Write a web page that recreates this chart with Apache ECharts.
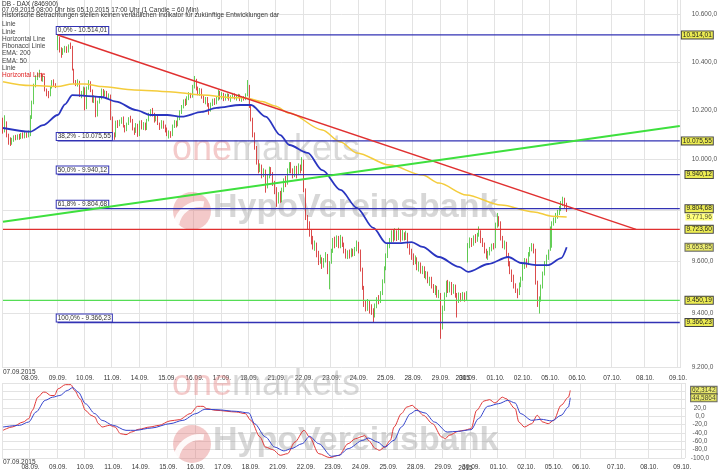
<!DOCTYPE html>
<html><head><meta charset="utf-8">
<script src="https://cdn.jsdelivr.net/npm/echarts@6/dist/echarts.min.js"></script>
<style>html,body{margin:0;padding:0;background:#fff}#c{width:720px;height:475px}</style>
</head><body><div id="c"></div>
<script>
// ---------------- DATA ----------------
const tradingDays = ['07.09.','08.09.','09.09.','10.09.','11.09.','14.09.','15.09.','16.09.','17.09.','18.09.','21.09.','22.09.','23.09.','24.09.','25.09.','28.09.','29.09.','30.09.','01.10.','02.10.','05.10.'];
const hoursPerDay = 15; // 08:00 .. 22:00
const futureDays = ['06.10.','07.10.','08.10.','09.10.'];
const futureSlots = [19, 18, 18, 2];
const firstDateLabel = '07.09.2015';
const yearLabel = '2015';

// hourly candles [open, close, low, high]
const candles = [
[10140,10120,10105,10170],[10120,10150,10110,10180],[10150,10100,10090,10155],[10100,10075,10060,10105],[10075,10065,10055,10090],[10065,10080,10060,10088],[10080,10090,10072,10098],[10090,10085,10078,10100],[10085,10095,10080,10102],[10095,10088,10080,10104],[10088,10098,10083,10108],[10098,10092,10085,10110],[10092,10100,10086,10112],[10100,10095,10088,10110],[10095,10105,10090,10118],
[10100,10170,10095,10180],[10170,10230,10165,10240],[10230,10300,10225,10310],[10300,10335,10295,10345],[10335,10345,10325,10355],[10345,10350,10335,10368],[10350,10330,10320,10355],[10330,10335,10318,10345],[10335,10285,10278,10340],[10285,10270,10258,10290],[10270,10262,10250,10280],[10262,10295,10258,10300],[10295,10318,10290,10325],[10318,10305,10298,10328],[10305,10300,10292,10312],
[10480,10500,10450,10514],[10500,10455,10440,10505],[10455,10435,10418,10462],[10435,10450,10430,10458],[10450,10462,10440,10468],[10462,10445,10438,10466],[10445,10470,10440,10474],[10470,10465,10455,10482],[10465,10370,10365,10468],[10370,10318,10310,10372],[10318,10310,10300,10325],[10310,10320,10298,10328],[10320,10262,10255,10322],[10262,10270,10250,10280],[10270,10290,10262,10298],
[10290,10215,10200,10295],[10215,10290,10205,10298],[10290,10318,10285,10325],[10318,10282,10275,10320],[10282,10240,10232,10286],[10240,10255,10230,10262],[10255,10180,10172,10258],[10180,10235,10175,10240],[10235,10250,10228,10258],[10250,10282,10245,10290],[10282,10265,10255,10288],[10265,10275,10258,10282],[10275,10258,10250,10280],[10258,10262,10245,10270],[10262,10170,10160,10265],
[10170,10100,10088,10175],[10100,10095,10080,10110],[10095,10150,10090,10158],[10150,10140,10128,10160],[10140,10155,10135,10162],[10155,10165,10145,10172],[10165,10135,10130,10175],[10135,10120,10110,10140],[10120,10145,10115,10150],[10145,10165,10140,10172],[10165,10160,10150,10178],[10160,10125,10118,10165],[10125,10112,10100,10130],[10112,10140,10108,10148],[10140,10100,10092,10145],
[10100,10150,10095,10158],[10150,10130,10122,10160],[10130,10145,10120,10152],[10145,10125,10118,10150],[10125,10160,10120,10165],[10160,10180,10155,10190],[10180,10195,10175,10205],[10195,10185,10175,10210],[10185,10160,10150,10190],[10160,10175,10155,10182],[10175,10145,10140,10180],[10145,10130,10120,10150],[10130,10150,10125,10160],[10150,10135,10125,10158],[10135,10120,10110,10142],
[10120,10100,10095,10130],[10100,10110,10085,10118],[10110,10100,10088,10115],[10100,10135,10095,10142],[10135,10150,10128,10160],[10150,10140,10130,10158],[10140,10165,10135,10175],[10165,10190,10160,10200],[10190,10215,10185,10222],[10215,10235,10208,10245],[10235,10228,10218,10248],[10228,10250,10222,10258],[10250,10262,10242,10275],[10262,10258,10250,10272],[10258,10295,10252,10305],
[10295,10325,10290,10342],[10325,10290,10282,10330],[10290,10270,10262,10298],[10270,10285,10260,10292],[10285,10255,10248,10290],[10255,10240,10230,10262],[10240,10250,10225,10255],[10250,10225,10215,10255],[10225,10200,10182,10230],[10200,10225,10195,10232],[10225,10240,10218,10248],[10240,10230,10222,10250],[10230,10245,10225,10255],[10245,10270,10240,10285],[10270,10255,10245,10280],
[10255,10265,10245,10275],[10265,10245,10238,10272],[10245,10258,10240,10268],[10258,10262,10248,10270],[10262,10248,10240,10268],[10248,10255,10235,10262],[10255,10265,10250,10272],[10265,10250,10245,10270],[10250,10258,10240,10264],[10258,10262,10250,10268],[10262,10245,10238,10266],[10245,10252,10235,10258],[10252,10248,10240,10258],[10248,10265,10242,10270],[10265,10310,10258,10325],
[10300,10220,10210,10305],[10220,10165,10155,10225],[10165,10100,10090,10170],[10100,10050,10040,10110],[10050,9990,9980,10055],[9990,9960,9945,10000],[9960,9975,9950,9985],[9975,9935,9925,9980],[9935,9955,9930,9965],[9955,9890,9868,9960],[9890,9930,9885,9940],[9930,9965,9925,9972],[9965,9945,9935,9970],[9945,9905,9895,9950],[9905,9880,9862,9915],
[9880,9840,9812,9890],[9840,9860,9825,9870],[9860,9835,9828,9875],[9835,9880,9830,9888],[9880,9915,9870,9925],[9915,9905,9890,9935],[9905,9955,9900,9965],[9955,9975,9945,9990],[9975,9955,9945,9990],[9955,9935,9925,9965],[9935,9965,9930,9975],[9965,9945,9925,9975],[9945,9970,9938,9985],[9970,9960,9945,9980],[9960,9995,9955,10010],
[9995,9880,9870,10000],[9880,9770,9760,9885],[9770,9745,9725,9780],[9745,9715,9695,9755],[9715,9690,9665,9725],[9690,9660,9645,9698],[9660,9665,9640,9680],[9665,9630,9615,9672],[9630,9600,9585,9640],[9600,9610,9590,9625],[9610,9585,9570,9615],[9585,9600,9575,9612],[9600,9620,9595,9635],[9620,9560,9550,9628],[9555,9595,9492,9600],
[9595,9640,9590,9648],[9640,9680,9632,9690],[9680,9665,9650,9695],[9665,9690,9655,9700],[9690,9660,9650,9698],[9660,9685,9650,9702],[9685,9665,9655,9695],[9665,9640,9630,9672],[9640,9620,9610,9648],[9620,9635,9608,9642],[9635,9625,9610,9645],[9625,9640,9615,9650],[9640,9630,9618,9648],[9630,9645,9620,9655],[9645,9660,9638,9680],
[9660,9640,9630,9675],[9640,9570,9560,9645],[9570,9500,9490,9575],[9500,9440,9425,9505],[9440,9420,9408,9450],[9420,9445,9410,9455],[9445,9425,9400,9450],[9425,9410,9395,9435],[9410,9395,9368,9420],[9395,9430,9385,9438],[9430,9455,9420,9462],[9455,9445,9435,9470],[9445,9475,9440,9485],[9475,9520,9470,9530],[9520,9570,9515,9580],
[9570,9620,9565,9630],[9620,9660,9612,9670],[9660,9680,9650,9690],[9680,9700,9672,9720],[9700,9685,9675,9725],[9685,9710,9680,9728],[9710,9690,9678,9720],[9690,9705,9682,9730],[9705,9688,9675,9725],[9688,9700,9680,9722],[9700,9690,9680,9712],[9690,9705,9682,9718],[9705,9660,9650,9710],[9660,9640,9625,9668],[9640,9620,9605,9648],
[9620,9600,9585,9630],[9600,9610,9588,9622],[9610,9575,9565,9615],[9575,9590,9560,9598],[9590,9565,9552,9595],[9565,9575,9550,9582],[9575,9545,9535,9580],[9545,9555,9530,9562],[9555,9525,9515,9560],[9525,9535,9505,9540],[9535,9505,9495,9540],[9505,9490,9478,9512],[9490,9500,9470,9508],[9500,9475,9460,9505],[9475,9480,9458,9490],
[9470,9350,9305,9478],[9350,9420,9340,9430],[9420,9470,9410,9480],[9470,9510,9462,9525],[9510,9490,9478,9528],[9490,9515,9480,9522],[9515,9495,9470,9520],[9495,9505,9475,9512],[9505,9470,9460,9510],[9470,9445,9385,9478],[9445,9470,9440,9480],[9470,9458,9445,9478],[9458,9475,9450,9482],[9475,9455,9445,9480],[9455,9480,9448,9485],
[9600,9660,9595,9670],[9660,9680,9650,9692],[9680,9670,9655,9690],[9670,9690,9660,9700],[9690,9685,9670,9705],[9685,9700,9675,9710],[9700,9715,9695,9735],[9715,9680,9670,9720],[9680,9665,9655,9690],[9665,9640,9630,9672],[9640,9620,9610,9648],[9620,9630,9605,9640],[9630,9645,9622,9655],[9645,9660,9638,9668],[9660,9655,9645,9670],
[9655,9740,9650,9750],[9740,9765,9730,9788],[9765,9750,9735,9775],[9750,9690,9680,9755],[9690,9660,9650,9698],[9660,9670,9645,9680],[9670,9625,9615,9675],[9625,9590,9580,9632],[9590,9560,9550,9600],[9560,9540,9520,9568],[9540,9505,9495,9548],[9505,9490,9478,9515],[9490,9475,9458,9495],[9475,9510,9470,9518],[9510,9530,9500,9540],
[9530,9580,9525,9590],[9580,9600,9570,9612],[9600,9590,9575,9610],[9590,9625,9585,9635],[9625,9645,9618,9655],[9645,9660,9638,9670],[9660,9640,9630,9668],[9640,9520,9510,9648],[9520,9440,9425,9525],[9440,9455,9400,9465],[9455,9500,9445,9510],[9500,9550,9495,9560],[9550,9590,9545,9600],[9590,9615,9580,9625],[9615,9630,9605,9645],
[9645,9725,9640,9735],[9725,9745,9652,9755],[9745,9760,9738,9770],[9760,9775,9748,9788],[9775,9790,9765,9800],[9790,9805,9780,9815],[9805,9825,9795,9835],[9825,9840,9815,9852],[9840,9818,9808,9848],[9818,9805,9792,9828]
];

// EMA lines: [candle slot, value]
const ema200 = [[0,10318],[15,10302],[30,10298],[38,10309],[45,10309],[54,10298],[72,10284],[91,10277],[109,10263],[127,10252],[133,10251],[142,10236],[149,10218],[157,10189],[175,10120],[185,10071],[194,10027],[212,9978],[230,9938],[239,9906],[254,9859],[273,9819],[291,9792],[301,9775],[309,9771.96]];
const ema50 = [[0,10128],[15,10113],[22,10140],[30,10181],[34,10225],[38,10263],[45,10260],[54,10255],[62,10236],[73,10201],[81,10181],[90,10181],[98,10174],[109,10194],[117,10210],[130,10222],[136,10222],[144,10174],[152,10099],[157,10059],[167,10027],[175,9958],[185,9879],[194,9808],[203,9729],[210,9670],[217,9670],[224,9674],[230,9655],[239,9616],[250,9578],[255,9559],[266,9589],[277,9616],[284,9593],[293,9585],[299,9585],[306,9612],[309,9653.85]];
const ema200Last = 9771.96;
const ema50Last = 9653.85;

// drawing tools
const fibLevels = [10514.01, 10075.55, 9940.12, 9804.68, 9366.23];
const fibPct = ['0,0%', '38,2%', '50,0%', '61,8%', '100,0%'];
const fibStartSlot = 30;
const redHorizontal = 9723.60;
const greenHorizontal = 9450.19;
const redTrend = [[30, 10514.01], [347, 9723.60]];
const greenTrend = [[0, 9753], [371, 10136]];

// price axis ticks
const priceTicks = [9200, 9400, 9600, 9800, 10000, 10200, 10400, 10600];
const priceMin = 9196.4, priceMax = 10662.8;

// lower indicator panel
const oscRed = [[0,-33.6],[5,-25.6],[11,-13.6],[14,-5.6],[16,14.4],[19,46],[22,58],[23,58],[26,50],[28,50],[30,66],[34,76],[37,76],[39,62],[42,42],[45,14],[48,2.4],[50,-1.6],[52,-17.6],[54,-25.6],[58,-21.6],[61,-25.6],[64,-41.6],[67,-44],[70,-37.6],[74,-31],[80,-25.6],[85,-21.6],[91,-11],[96,-8],[102,6.4],[106,24],[109,24],[111,18.4],[116,14.4],[127,10.4],[132,6.4],[135,-9.6],[140,-49.6],[143,-73.7],[147,-80],[151,-93.6],[155,-89.6],[159,-61.7],[164,-33.6],[167,-49.6],[172,-89.6],[178,-99],[183,-93.6],[188,-65.6],[192,-53.6],[196,-48],[197,-45.6],[199,-57.6],[203,-77.6],[205,-81.6],[208,-73.7],[211,-57.6],[213,-25.6],[217,6.4],[220,22.4],[223,26.4],[225,18.4],[229,2.4],[234,-17.6],[239,-49.6],[241,-53.6],[243,-45.6],[248,-36],[251,-33.6],[255,-29.6],[258,14.4],[262,36.7],[265,40],[268,32],[272,46],[274,42.4],[279,18.4],[281,-13.6],[284,-25.6],[288,-17.6],[291,2.4],[294,-13.6],[297,-17.6],[300,-9.6],[304,26.4],[308,46],[309,62.3142]];
const oscBlue = [[0,-25.6],[9,-21.6],[14,-13.6],[18,10.4],[23,38.4],[27,46],[31,50],[35,62],[38,69],[41,58],[45,30],[50,6.4],[54,-9.6],[60,-21.6],[67,-33.6],[72,-33.6],[81,-28],[91,-17.6],[98,-9.6],[105,6.4],[110,17],[116,16],[127,12],[134,8],[137,-17.6],[143,-49.6],[148,-73.7],[153,-83],[157,-77.6],[163,-65.6],[167,-48],[172,-65.6],[179,-96],[183,-93.6],[188,-77.6],[196,-57.6],[199,-52],[204,-61.7],[208,-73.7],[213,-57.6],[217,-25.6],[222,6.4],[225,14.4],[230,8],[235,-13.6],[242,-37.6],[248,-36],[255,-32],[259,-5.6],[264,24],[270,30.4],[275,38.4],[279,32],[282,6.4],[288,-9.6],[293,-7],[299,-11],[304,2.4],[308,22.4],[309,44.5864]];
const oscRedLast = 62.3142;
const oscBlueLast = 44.5864;
const oscTicks = {min: -100, max: 80, step: 20};

const headerLines = ['DB - DAX (846900)', '07.09.2015 08:00 Uhr bis 05.10.2015 17:00 Uhr (1 Candle = 60 Min)', 'Historische Betrachtungen stellen keinen verläßlichen Indikator für zukünftige Entwicklungen dar'];
const legendItems = ['Linie', 'Linie', 'Horizontal Line', 'Fibonacci Linie', 'EMA: 200', 'EMA: 50', 'Linie', 'Horizontal Line'];

// ---------------- BUILD ----------------
const FONT = '"Liberation Sans", Arial, sans-serif';
function de(v, d) {
  let s = Math.abs(v).toFixed(d);
  let [i, f] = s.split('.');
  i = i.replace(/\B(?=(\d{3})+(?!\d))/g, '.');
  return (v < 0 && Number(s) !== 0 ? '-' : '') + i + (f !== undefined ? ',' + f : '');
}
const categories = [];
const dayStarts = new Set();
tradingDays.forEach(d => { dayStarts.add(categories.length); for (let h = 0; h < hoursPerDay; h++) categories.push(d + ' ' + String(8 + h).padStart(2, '0') + ':00'); });
futureDays.forEach((d, k) => { dayStarts.add(categories.length); for (let s = 0; s < futureSlots[k]; s++) categories.push(d + ' +' + s); });
const lastSlot = categories.length - 1;
const yearSlot = 248;

function dateAxis(gridIndex, margin) {
  return {type: 'category', gridIndex, position: 'bottom', data: categories, boundaryGap: true,
    axisLine: {show: false}, axisTick: {show: false},
    axisLabel: {interval: i => dayStarts.has(i) && i !== 0, formatter: v => v.split(' ')[0], fontSize: 6.5, fontFamily: FONT, color: '#333', margin, lineHeight: 8},
    splitLine: {show: true, interval: i => dayStarts.has(i), lineStyle: {color: '#e3e3e3', width: 1}}};
}
function yearAxis(gridIndex) {
  return {type: 'category', gridIndex, position: 'bottom', data: categories, boundaryGap: true,
    axisLine: {show: false}, axisTick: {show: false}, splitLine: {show: false},
    axisLabel: {interval: i => i === 0 || i === yearSlot, align: 'left', margin: 0.5, lineHeight: 6.5,
      formatter: (v, i) => i === 0 ? firstDateLabel : '\n' + yearLabel, fontSize: 6.5, fontFamily: FONT, color: '#333'}};
}
const boxLabel = (text, border) => ({show: true, formatter: text, position: [33, 0], align: 'right', verticalAlign: 'middle',
  backgroundColor: border ? '#ecec52' : '#ffff5a', borderColor: border ? '#444' : 'transparent', borderWidth: border ? 1 : 0,
  padding: [0, 1, 0, 1], fontSize: 6.5, lineHeight: 7, fontFamily: FONT, color: '#222'});

const smoothLine = (data, color, width, x, y, z) => ({type: 'line', xAxisIndex: x, yAxisIndex: y, data, smooth: 0.3, smoothMonotone: 'x',
  symbol: 'none', lineStyle: {color, width}, z});

const series = [];
series.push({type: 'candlestick', xAxisIndex: 0, yAxisIndex: 0, data: candles, barWidth: 1.2, z: 2,
  itemStyle: {color: '#3cc22c', color0: '#d21f1f', borderColor: '#3cc22c', borderColor0: '#d21f1f', borderWidth: 0.8}});
series.push(smoothLine(ema200, '#f4cc3c', 1.5, 0, 0, 3));
series.push(smoothLine(ema50, '#2a35c0', 1.8, 0, 0, 3));
fibLevels.forEach((v, k) => {
  series.push({type: 'line', xAxisIndex: 0, yAxisIndex: 0, symbol: 'circle', symbolSize: 0, showSymbol: true, z: 4,
    lineStyle: {color: '#3232b4', width: 1.3}, itemStyle: {color: '#3232b4'},
    data: [
      {value: [fibStartSlot, v], label: {show: true, formatter: fibPct[k] + ' - ' + de(v, 2), position: [-1, -8], align: 'left', verticalAlign: 'top',
        backgroundColor: '#fff', borderColor: '#3232b4', borderWidth: 1, padding: [0, 1, 0, 1], fontSize: 6.5, lineHeight: 7, fontFamily: FONT, color: '#333'}},
      {value: [lastSlot, v], label: boxLabel(de(v, 2), true)}
    ]});
});
[[redHorizontal, '#e03030'], [greenHorizontal, '#55dd55']].forEach(([v, c]) => {
  series.push({type: 'line', xAxisIndex: 0, yAxisIndex: 0, symbol: 'circle', symbolSize: 0, showSymbol: true, z: 4,
    lineStyle: {color: c, width: 1.2}, itemStyle: {color: c},
    data: [{value: [0, v]}, {value: [lastSlot, v], label: boxLabel(de(v, 2), true)}]});
});
series.push({type: 'line', xAxisIndex: 0, yAxisIndex: 0, data: redTrend, symbol: 'none', lineStyle: {color: '#e03030', width: 1.5}, z: 5});
series.push({type: 'line', xAxisIndex: 0, yAxisIndex: 0, data: greenTrend, symbol: 'none', lineStyle: {color: '#3ee03e', width: 2}, z: 5});
series.push({type: 'scatter', xAxisIndex: 0, yAxisIndex: 0, symbolSize: 0, z: 6,
  data: [{value: [lastSlot, ema200Last], label: boxLabel(de(ema200Last, 2), false)}, {value: [lastSlot, ema50Last], label: boxLabel(de(ema50Last, 2), true)}]});
// lower panel
series.push(smoothLine(oscRed, '#e03838', 1, 2, 1, 3));
series.push(smoothLine(oscBlue, '#3444cc', 1, 2, 1, 3));
series.push({type: 'scatter', xAxisIndex: 2, yAxisIndex: 1, symbolSize: 0, z: 6,
  data: [{value: [lastSlot, oscRedLast], label: Object.assign(boxLabel(de(oscRedLast, 4), true), {position: [32.5, 0]})},
         {value: [lastSlot, oscBlueLast], label: Object.assign(boxLabel(de(oscBlueLast, 4), true), {position: [32.5, 0]})}]});

// text and watermarks
const graphic = [];
const wm = (baseOne, baseHypo) => [
  {type: 'text', x: 172, y: baseOne - 12.6, z: 1, silent: true, style: {text: '{a|one}{b|markets}', font: '36px ' + FONT, verticalAlign: 'middle',
    rich: {a: {fill: 'rgba(230,140,140,0.45)', font: '36px ' + FONT}, b: {fill: 'rgba(170,170,170,0.45)', font: '36px ' + FONT}}}},
  {type: 'circle', z: 1, silent: true, shape: {cx: 192, cy: baseHypo - 9, r: 19}, style: {fill: 'rgba(225,120,120,0.4)'}},
  {type: 'arc', z: 1, silent: true, shape: {cx: 200, cy: baseHypo + 8, r: 24, startAngle: Math.PI * 1.05, endAngle: Math.PI * 1.55}, style: {stroke: 'rgba(255,255,255,0.9)', lineWidth: 6, fill: null}},
  {type: 'text', x: 213, y: baseHypo - 12, z: 1, silent: true, style: {text: 'HypoVereinsbank', font: 'bold 34px ' + FONT, fill: 'rgba(160,160,160,0.42)', verticalAlign: 'middle'}}
];
graphic.push(...wm(163, 220), ...wm(398, 453));
const headerY = [4, 10, 15.5];
headerLines.forEach((t, i) => graphic.push({type: 'text', x: 2, y: headerY[i], z: 20, silent: true, style: {text: t, font: '6.5px ' + FONT, fill: '#333', verticalAlign: 'middle'}}));
legendItems.forEach((t, i) => graphic.push({type: 'text', x: 2, y: 24.5 + i * 7.3, z: 20, silent: true,
  style: {text: t, font: '6.5px ' + FONT, fill: i === legendItems.length - 1 ? '#e02020' : '#444', verticalAlign: 'middle'}}));

const option = {
  animation: false,
  backgroundColor: '#fff',
  grid: [{left: 0, right: 35, top: 0, height: 368}, {left: 0, right: 35, top: 383, height: 75}],
  xAxis: [dateAxis(0, 6), yearAxis(0), dateAxis(1, 5), yearAxis(1)],
  yAxis: [
    {type: 'log', gridIndex: 0, position: 'right', min: priceMin, max: priceMax, logBase: 10,
      axisLine: {show: false}, axisTick: {show: false, customValues: priceTicks},
      axisLabel: {customValues: priceTicks, formatter: v => de(Math.round(v), 1), fontSize: 6.5, fontFamily: FONT, color: '#555', margin: 11, align: 'left'},
      splitLine: {show: true, lineStyle: {color: '#e3e3e3'}}},
    {type: 'value', gridIndex: 1, position: 'right', min: oscTicks.min, max: oscTicks.max, interval: oscTicks.step,
      axisLine: {show: false}, axisTick: {show: false},
      axisLabel: {formatter: v => v === oscTicks.max ? '' : de(v, 1), fontSize: 6.5, fontFamily: FONT, color: '#555', margin: 15, align: 'center'},
      splitLine: {show: true, lineStyle: {color: '#e3e3e3'}}}
  ],
  series,
  graphic
};
const chart = echarts.init(document.getElementById('c'));
chart.setOption(option);
</script>
</body></html>
